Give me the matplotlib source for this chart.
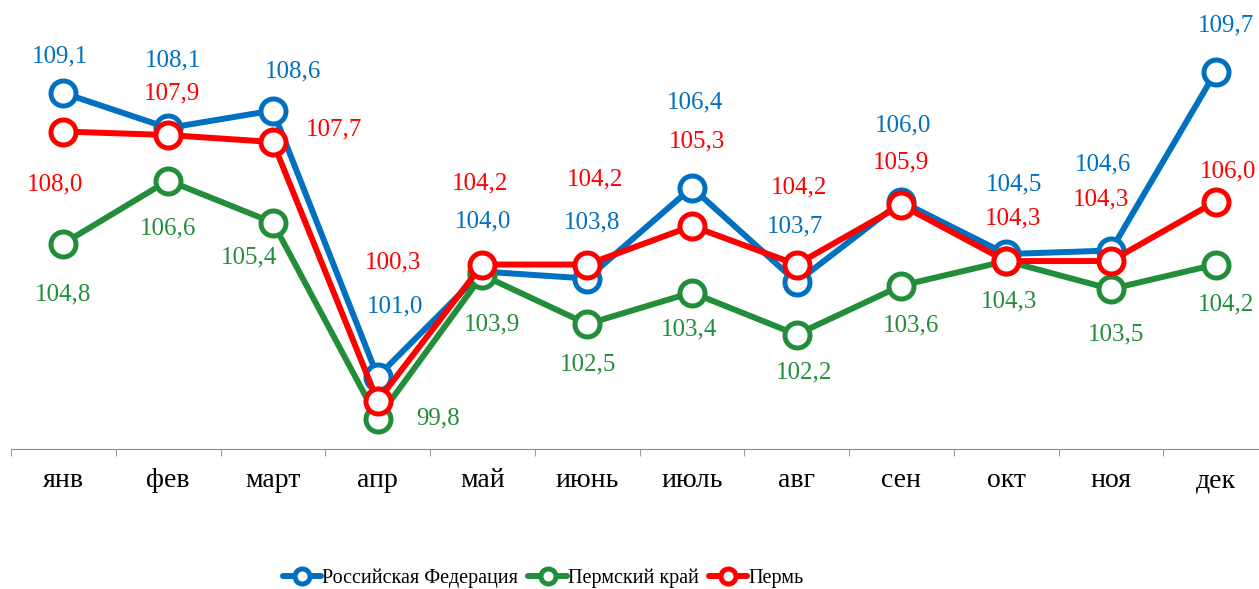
import matplotlib.pyplot as plt
from matplotlib.ticker import FixedLocator

months = ["янв", "фев", "март", "апр", "май", "июнь", "июль", "авг", "сен", "окт", "ноя", "дек"]
rf = [109.1, 108.1, 108.6, 101.0, 104.0, 103.8, 106.4, 103.7, 106.0, 104.5, 104.6, 109.7]
krai = [104.8, 106.6, 105.4, 99.8, 103.9, 102.5, 103.4, 102.2, 103.6, 104.3, 103.5, 104.2]
perm = [108.0, 107.9, 107.7, 100.3, 104.2, 104.2, 105.3, 104.2, 105.9, 104.3, 104.3, 106.0]

# label offsets in pixels (dx, dy up)
rf_off = [(-3, 37), (5, 68), (20, 39), (17, 70), (1, 50), (5, 56),
          (3, 85), (-2, 56), (2, 76), (8, 70), (-8, 86), (10, 47)]
krai_off = [(0, -51), (0, -48), (-24, -35), (60, 0), (10, -49), (1, -40),
            (-3, -37), (7, -38), (10, -40), (3, -40), (5, -45), (10, -40)]
perm_off = [(-8, -53), (4, 42), (61, 13), (15, 139), (-2, 81), (8, 85),
            (5, 85), (2, 77), (0, 43), (7, 43), (-10, 62), (12, 30)]

c_blue = "#0070C0"
c_green = "#238E3A"
c_red = "#FF0000"

plt.rcParams["font.family"] = ["Liberation Serif", "DejaVu Serif"]

fig = plt.figure(figsize=(12.59, 5.89), dpi=100)
ax = fig.add_axes([11 / 1259, 1 - 449 / 589, 1257 / 1259, 440 / 589])

x = range(len(months))
series = [
    ("Российская Федерация", rf, c_blue, rf_off),
    ("Пермский край", krai, c_green, krai_off),
    ("Пермь", perm, c_red, perm_off),
]
for name, vals, col, offs in series:
    ax.plot(x, vals, color=col, lw=4.3, marker="o", ms=18, mfc="white",
            mec=col, mew=3.6, label=name, solid_capstyle="round")

for name, vals, col, offs in series:
    for i, v in enumerate(vals):
        ax.annotate(f"{v:.1f}".replace(".", ","), (i, v), xytext=offs[i],
                    textcoords="offset pixels", ha="center", va="center",
                    fontsize=18, color=col)

ax.set_xlim(-0.5, 11.5)
ax.set_ylim(98.93, 111.5)
ax.set_yticks([])
for s in ["left", "right", "top"]:
    ax.spines[s].set_visible(False)
ax.spines["bottom"].set_color("#8c8c8c")
ax.set_xticks(list(x))
ax.set_xticklabels(months, fontsize=20)
ax.tick_params(axis="x", which="major", length=0, pad=14)
ax.xaxis.set_minor_locator(FixedLocator([i - 0.5 for i in range(13)]))
ax.tick_params(axis="x", which="minor", length=5, color="#8c8c8c", direction="out")

fig.legend(loc="center left", bbox_to_anchor=(265 / 1259, 1 - 578 / 589),
           ncol=3, frameon=False, fontsize=14.5, markerscale=0.6,
           handlelength=1.9, handletextpad=0.05, columnspacing=0.5)

fig.savefig("out.png", dpi=100)
